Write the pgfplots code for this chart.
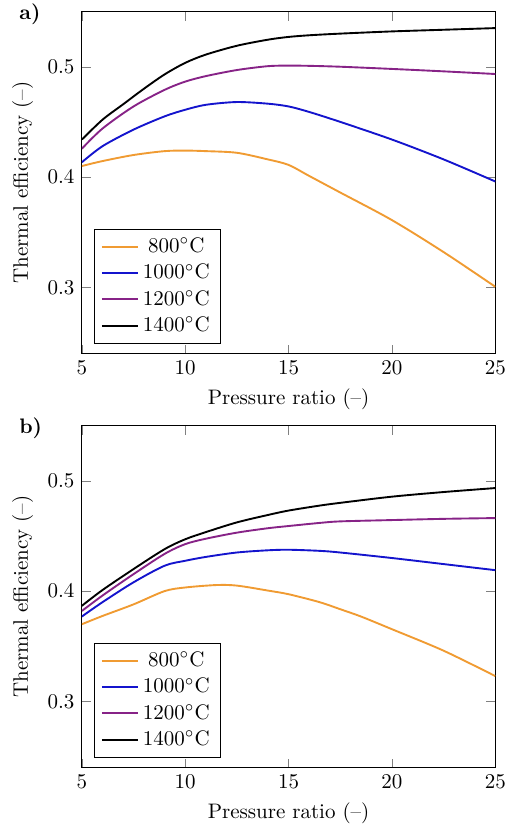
\documentclass[border={2.5pt 0pt 0pt 2pt}]{standalone}
\usepackage{pgfplots}
\pgfplotsset{compat=1.18}
\definecolor{c800}{RGB}{240,155,50}
\definecolor{c1000}{RGB}{20,20,205}
\definecolor{c1200}{RGB}{135,35,135}
\definecolor{c1400}{RGB}{0,0,0}

\pgfplotsset{
  effplot/.style={
    scale only axis,
    width=197pt, height=163pt,
    xmin=5, xmax=25, ymin=0.24, ymax=0.55,
    xtick={5,10,15,20,25},
    ytick={0.3,0.4,0.5},
    xlabel={Pressure ratio (--)},
    ylabel={Thermal efficiency (--)},
    legend pos=south west,
    legend cell align=center,
    every axis plot/.append style={line width=0.9pt, smooth},
  },
}

\begin{document}
\begin{tikzpicture}
% a)
\begin{axis}[effplot, name=a]
\addplot[c800] coordinates {
  (5,0.410) (6,0.4145) (7.5,0.420) (9,0.4235) (10,0.424) (11,0.4235) (12.5,0.422)
  (14,0.416) (15,0.411) (16,0.401) (17.5,0.386) (20,0.361) (22.5,0.332) (25,0.3006)
};
\addlegendentry{800$^\circ$C}
\addplot[c1000] coordinates {
  (5,0.4134) (6,0.428) (7.5,0.443) (9,0.455) (10,0.461) (11,0.4655) (12.5,0.468)
  (14,0.4665) (15,0.464) (16,0.459) (17.5,0.450) (20,0.434) (22.5,0.416) (25,0.396)
};
\addlegendentry{1000$^\circ$C}
\addplot[c1200] coordinates {
  (5,0.4257) (6,0.444) (7.5,0.464) (9,0.479) (10,0.4865) (11,0.4915) (12.5,0.497)
  (14,0.5005) (15,0.501) (16,0.5008) (17.5,0.500) (20,0.498) (22.5,0.4958) (25,0.4934)
};
\addlegendentry{1200$^\circ$C}
\addplot[c1400] coordinates {
  (5,0.434) (6,0.452) (7,0.466) (8,0.480) (9,0.493) (10,0.5035) (11,0.511) (12.5,0.519)
  (14,0.5245) (15,0.527) (16,0.5285) (17.5,0.530) (20,0.532) (22.5,0.5335) (25,0.535)
};
\addlegendentry{1400$^\circ$C}
\end{axis}
\node[anchor=base west, inner sep=0pt, font=\bfseries] at ([xshift=-30pt, yshift=-4pt]a.north west) {a)};

% b)
\begin{axis}[effplot, name=b, at={(0,-197.3pt)}]
\addplot[c800] coordinates {
  (5,0.370) (6,0.3775) (7.5,0.388) (9,0.400) (10,0.4033) (11.5,0.4055) (12.5,0.405)
  (14,0.4005) (15,0.3972) (16.5,0.390) (17.5,0.3836) (18.5,0.377) (20,0.3655) (22.5,0.346) (25,0.323)
};
\addlegendentry{800$^\circ$C}
\addplot[c1000] coordinates {
  (5,0.377) (6,0.390) (7.5,0.408) (9,0.423) (10,0.4275) (11,0.431) (12.5,0.435)
  (14,0.437) (15,0.4375) (16.5,0.4365) (17.5,0.435) (20,0.430) (22.5,0.4245) (25,0.419)
};
\addlegendentry{1000$^\circ$C}
\addplot[c1200] coordinates {
  (5,0.382) (6,0.396) (7.5,0.4154) (9,0.4337) (10,0.4426) (11,0.4475) (12.5,0.453)
  (14,0.457) (15,0.459) (16.5,0.4618) (17.5,0.4632) (20,0.4644) (22.5,0.4655) (25,0.4662)
};
\addlegendentry{1200$^\circ$C}
\addplot[c1400] coordinates {
  (5,0.3867) (6,0.401) (7.5,0.420) (9,0.438) (10,0.447) (11,0.4535) (12.5,0.4623)
  (14,0.469) (15,0.473) (16.5,0.4775) (17.5,0.480) (20,0.4856) (22.5,0.4898) (25,0.4934)
};
\addlegendentry{1400$^\circ$C}
\end{axis}
\node[anchor=base west, inner sep=0pt, font=\bfseries] at ([xshift=-30pt, yshift=-4pt]b.north west) {b)};
\end{tikzpicture}
\end{document}
